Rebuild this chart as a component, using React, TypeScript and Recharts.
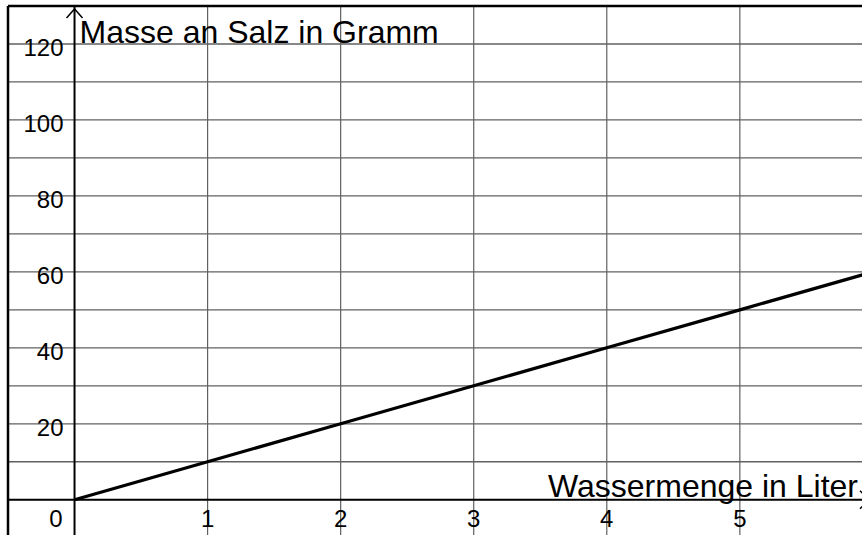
import React from "react";
import { LineChart, Line, XAxis, YAxis, ReferenceLine, ReferenceDot } from "recharts";

// Data
const waterLiters = [0, 1, 2, 3, 4, 5, 6];
const saltGrams = [0, 10, 20, 30, 40, 50, 60];
const xTickLabels = [1, 2, 3, 4, 5];
const yTickLabels = [20, 40, 60, 80, 100, 120];
const xGridValues = [1, 2, 3, 4, 5];
const yGridValues = [10, 20, 30, 40, 50, 60, 70, 80, 90, 100, 110, 120];
const xDomain: [number, number] = [-0.5, 5.918];
const yDomain: [number, number] = [-9.28, 130];
const yTitle = "Masse an Salz in Gramm";
const xTitle = "Wassermenge in Liter";

const chartData = waterLiters.map((x, i) => ({ x, y: saltGrams[i] }));

const FONT = "'Liberation Sans', Arial, Helvetica, sans-serif";
const GRID = "#606060";
const TICK_FS = 24;

export default function App() {
  return (
    <div
      style={{
        position: "fixed",
        left: 0,
        top: 0,
        width: 862,
        height: 535,
        overflow: "hidden",
        background: "#fff",
      }}
    >
      <LineChart
        width={862}
        height={535}
        data={chartData}
        margin={{ top: 6, right: 0, bottom: 0, left: 8 }}
      >
        <XAxis
          hide
          type="number"
          dataKey="x"
          domain={xDomain}
          allowDataOverflow
        />
        <YAxis hide type="number" domain={yDomain} allowDataOverflow />

        {xGridValues.map((v) => (
          <ReferenceLine key={"gx" + v} x={v} stroke={GRID} strokeWidth={1.2} />
        ))}
        {yGridValues.map((v) => (
          <ReferenceLine key={"gy" + v} y={v} stroke={GRID} strokeWidth={1.3} />
        ))}

        {/* frame */}
        <ReferenceLine y={yDomain[1]} stroke="#000" strokeWidth={2.5} />
        <ReferenceLine x={xDomain[0]} stroke="#000" strokeWidth={2.5} />

        {/* axes */}
        <ReferenceLine x={0} stroke="#000" strokeWidth={2} />
        <ReferenceLine y={0} stroke="#000" strokeWidth={2} />

        <Line
          type="linear"
          dataKey="y"
          stroke="#000"
          strokeWidth={3.2}
          dot={false}
          isAnimationActive={false}
        />

        {/* y axis arrow */}
        <ReferenceDot
          x={0}
          y={yDomain[1]}
          r={0}
          shape={(p: any) => (
            <path
              d={`M${p.cx - 8} ${p.cy + 12} L${p.cx} ${p.cy + 3} L${p.cx + 8} ${p.cy + 12}`}
              fill="none"
              stroke="#000"
              strokeWidth={1.5}
            />
          )}
        />
        {/* x axis arrow (tip just outside the view) */}
        <ReferenceDot
          x={xDomain[1]}
          y={0}
          r={0}
          shape={(p: any) => (
            <path
              d={`M${p.cx - 2} ${p.cy - 9} L${p.cx + 7} ${p.cy} L${p.cx - 2} ${p.cy + 9}`}
              fill="none"
              stroke="#000"
              strokeWidth={1.5}
            />
          )}
        />

        {/* y tick labels */}
        {yTickLabels.map((v) => (
          <ReferenceDot
            key={"ty" + v}
            x={0}
            y={v}
            r={0}
            fill="none"
            stroke="none"
            label={{
              content: (p: any) => (
                <text
                  x={p.viewBox.x - 11}
                  y={p.viewBox.y + 12.5}
                  textAnchor="end"
                  fontFamily={FONT}
                  fontSize={TICK_FS}
                  fill="#000"
                >
                  {v}
                </text>
              ),
            }}
          />
        ))}
        {/* origin label */}
        <ReferenceDot
          x={0}
          y={0}
          r={0}
          fill="none"
          stroke="none"
          label={{
            content: (p: any) => (
              <text
                x={p.viewBox.x - 12}
                y={p.viewBox.y + 27}
                textAnchor="end"
                fontFamily={FONT}
                fontSize={TICK_FS}
                fill="#000"
              >
                0
              </text>
            ),
          }}
        />
        {/* x tick labels */}
        {xTickLabels.map((v) => (
          <ReferenceDot
            key={"tx" + v}
            x={v}
            y={0}
            r={0}
            fill="none"
            stroke="none"
            label={{
              content: (p: any) => (
                <text
                  x={p.viewBox.x}
                  y={p.viewBox.y + 27}
                  textAnchor="middle"
                  fontFamily={FONT}
                  fontSize={TICK_FS}
                  fill="#000"
                >
                  {v}
                </text>
              ),
            }}
          />
        ))}
        {/* axis titles */}
        <ReferenceDot
          x={0}
          y={120}
          r={0}
          fill="none"
          stroke="none"
          label={{
            content: (p: any) => (
              <text
                x={p.viewBox.x + 5}
                y={p.viewBox.y - 1}
                textAnchor="start"
                fontFamily={FONT}
                fontSize={32}
                fill="#000"
              >
                {yTitle}
              </text>
            ),
          }}
        />
        <ReferenceDot
          x={xDomain[1]}
          y={0}
          r={0}
          fill="none"
          stroke="none"
          label={{
            content: (p: any) => (
              <text
                x={p.viewBox.x - 4}
                y={p.viewBox.y - 3}
                textAnchor="end"
                fontFamily={FONT}
                fontSize={32}
                fill="#000"
              >
                {xTitle}
              </text>
            ),
          }}
        />
      </LineChart>
    </div>
  );
}
